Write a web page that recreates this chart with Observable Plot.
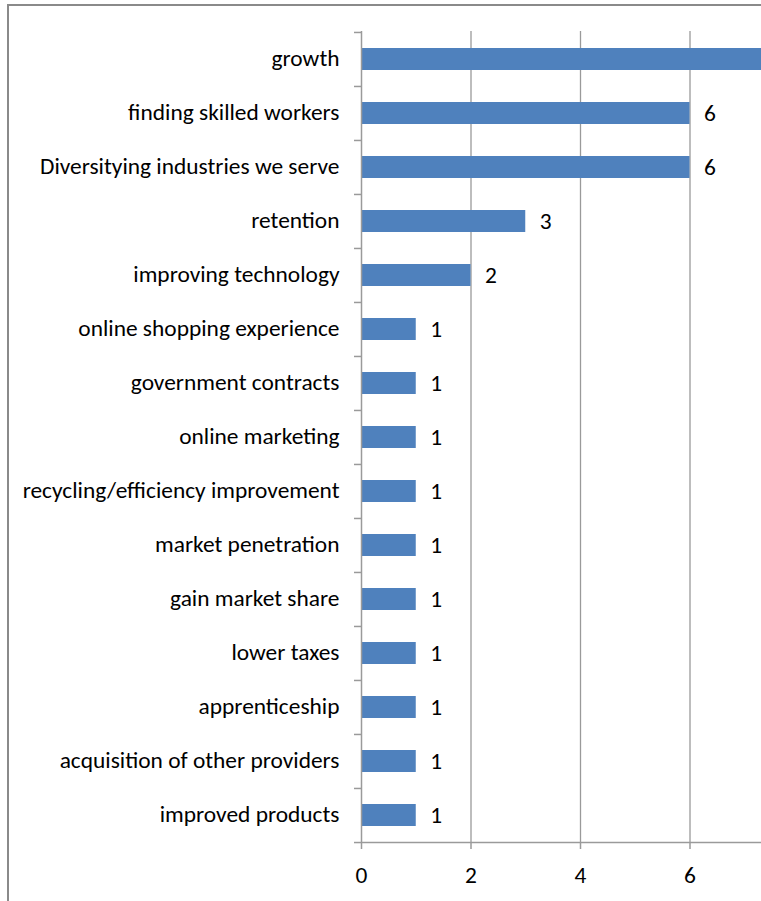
<!DOCTYPE html>
<html>
<head>
<meta charset="utf-8">
<script src="https://cdn.jsdelivr.net/npm/d3@7"></script>
<script src="https://cdn.jsdelivr.net/npm/@observablehq/plot@0.6"></script>
<style>
html,body{margin:0;padding:0;overflow:hidden;background:#fff;}
#wrap{position:relative;width:761px;height:901px;overflow:hidden;}
#border{position:absolute;left:7px;top:4px;width:800px;height:900px;border-left:2px solid #8a8a8a;border-top:2px solid #8a8a8a;box-sizing:border-box;}
#chart{position:absolute;left:0;top:0;width:820px;}
#chart svg{max-width:none !important;}
</style>
</head>
<body>
<div id="wrap"><div id="border"></div><div id="chart"></div></div>
<script>
const categories = [
  "growth",
  "finding skilled workers",
  "Diversitying industries we serve",
  "retention",
  "improving technology",
  "online shopping experience",
  "government contracts",
  "online marketing",
  "recycling/efficiency improvement",
  "market penetration",
  "gain market share",
  "lower taxes",
  "apprenticeship",
  "acquisition of other providers",
  "improved products"
];
const values = [8, 6, 6, 3, 2, 1, 1, 1, 1, 1, 1, 1, 1, 1, 1];
const xTicks = [0, 2, 4, 6];
const gridTicks = [2, 4, 6];

const data = categories.map((c, i) => ({category: c, value: values[i]}));

const W = 799, H = 901, mT = 31, mB = 59, mL = 361;
const step = (H - mT - mB) / categories.length;
const font = "Carlito, Calibri, sans-serif";
const gray = "#9a9a9a";
const fs = 23.4;

const chart = Plot.plot({
  width: W,
  height: H,
  marginLeft: mL,
  marginRight: 0,
  marginTop: mT,
  marginBottom: mB,
  style: {fontFamily: font, fontSize: fs + "px", color: "#000", background: "transparent", overflow: "visible", maxWidth: "none"},
  x: {domain: [0, 8], axis: null},
  y: {domain: categories, paddingInner: 0.6, paddingOuter: 0.3, axis: null},
  marks: [
    Plot.gridX(gridTicks, {stroke: gray, strokeOpacity: 1, strokeWidth: 1.3}),
    Plot.barX(data, {x: "value", y: "category", fill: "#4f81bd"}),
    Plot.text(data.filter(d => d.value < 7), {x: "value", y: "category", text: d => String(d.value), textAnchor: "start", dx: 14, fontSize: fs, fill: "#000"}),
    // y axis line
    Plot.ruleX([0], {stroke: gray, strokeWidth: 1.5}),
    // x axis baseline
    Plot.ruleY([categories[categories.length - 1]], {stroke: gray, strokeWidth: 1.5, dy: step / 2}),
    // y category labels
    Plot.axisY({anchor: "left", tickSize: 0, tickPadding: 22, fontSize: fs, label: null, dy: -1}),
    // y tick marks at category boundaries
    Plot.axisY({anchor: "left", tickSize: 7, text: null, dy: -step / 2, stroke: gray, strokeWidth: 1.5, label: null}),
    Plot.axisY([categories[categories.length - 1]], {anchor: "left", tickSize: 7, text: null, dy: step / 2, stroke: gray, strokeWidth: 1.5, label: null}),
    // x axis
    Plot.axisX(xTicks, {anchor: "bottom", tickSize: 7, tickPadding: 17, stroke: gray, strokeWidth: 1.5, fontSize: fs, fill: "#000", label: null})
  ]
});
document.getElementById("chart").appendChild(chart);
</script>
</body>
</html>
